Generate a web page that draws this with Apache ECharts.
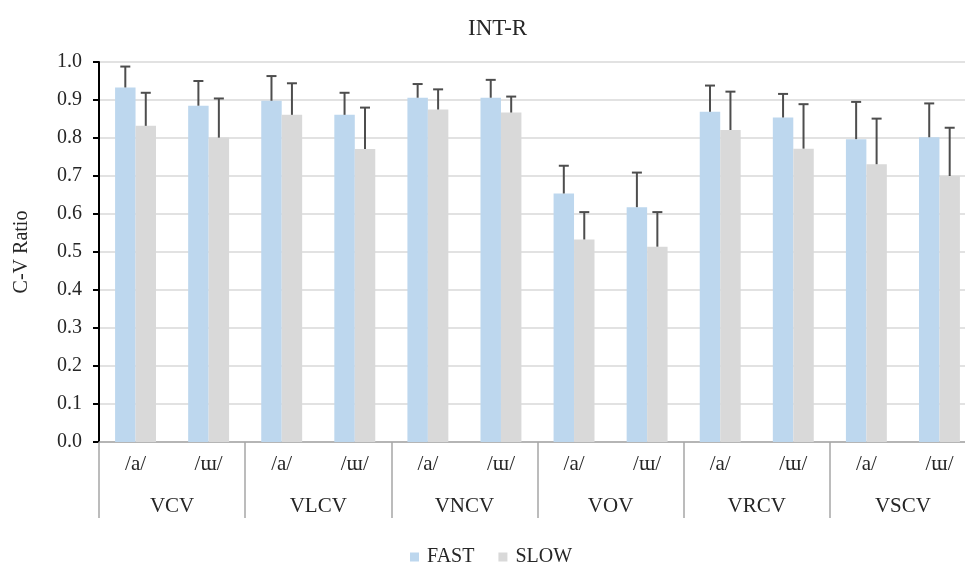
<!DOCTYPE html>
<html>
<head>
<meta charset="utf-8">
<script src="https://cdn.jsdelivr.net/npm/echarts@6/dist/echarts.min.js"></script>
<style>html,body{margin:0;padding:0;background:#fff}#c{width:965px;height:563px}</style>
</head>
<body>
<div id="c"></div>
<script>
var subCategories = ['/a/', '/ɯ/', '/a/', '/ɯ/', '/a/', '/ɯ/', '/a/', '/ɯ/', '/a/', '/ɯ/', '/a/', '/ɯ/'];
var groups = ['VCV', 'VLCV', 'VNCV', 'VOV', 'VRCV', 'VSCV'];
var fastValues = [0.933, 0.885, 0.898, 0.861, 0.906, 0.906, 0.654, 0.618, 0.869, 0.854, 0.797, 0.802];
var fastErrTop = [0.988, 0.950, 0.963, 0.919, 0.942, 0.953, 0.727, 0.709, 0.938, 0.916, 0.895, 0.891];
var slowValues = [0.832, 0.801, 0.861, 0.771, 0.875, 0.867, 0.533, 0.514, 0.821, 0.772, 0.731, 0.700];
var slowErrTop = [0.919, 0.904, 0.944, 0.880, 0.928, 0.909, 0.605, 0.605, 0.922, 0.889, 0.851, 0.827];
var yTicks = ['0.0','0.1','0.2','0.3','0.4','0.5','0.6','0.7','0.8','0.9','1.0'];

var FONT = '"Liberation Serif", "DejaVu Serif", serif';
var BAR_FRAC = 0.28;

function errData(vals, tops) {
  return vals.map(function (v, i) { return [i, v, tops[i]]; });
}
function errRender(side) {
  return function (params, api) {
    var i = api.value(0);
    var base = api.coord([i, api.value(1)]);
    var top = api.coord([i, api.value(2)]);
    var band = api.size([1, 0])[0];
    var bw = band * BAR_FRAC;
    var x = base[0] + side * bw / 2;
    var cap = 5;
    var st = { stroke: '#4d4d4d', lineWidth: 2 };
    return {
      type: 'group',
      children: [
        { type: 'line', shape: { x1: x, y1: base[1], x2: x, y2: top[1] }, style: st },
        { type: 'line', shape: { x1: x - cap, y1: top[1], x2: x + cap, y2: top[1] }, style: st }
      ]
    };
  };
}

var chart = echarts.init(document.getElementById('c'));
chart.setOption({
  animation: false,
  backgroundColor: '#fff',
  title: {
    text: 'INT-R',
    left: 463, top: 12,
    textStyle: { fontFamily: FONT, fontSize: 23, fontWeight: 'normal', color: '#262626' }
  },
  legend: {
    left: 405, top: 542,
    itemWidth: 9, itemHeight: 9, itemGap: 24,
    icon: 'rect',
    textStyle: { fontFamily: FONT, fontSize: 20, color: '#262626', padding: [0, 0, 0, 3] },
    data: ['FAST', 'SLOW']
  },
  grid: { left: 99, right: -11, top: 62, bottom: 121, outerBoundsMode: 'none', containLabel: false },
  xAxis: [
    {
      type: 'category',
      data: subCategories,
      boundaryGap: true,
      axisLine: { show: true, lineStyle: { color: '#a6a6a6', width: 1.5 } },
      axisTick: {
        show: true, length: 76, inside: false,
        interval: function (idx) { return idx % 2 === 0; },
        lineStyle: { color: '#a6a6a6', width: 1.5 }
      },
      axisLabel: { interval: 0, margin: 12, fontFamily: FONT, fontSize: 21, color: '#262626' },
      splitLine: { show: false }
    },
    {
      type: 'category',
      data: groups,
      position: 'bottom',
      gridIndex: 0,
      axisLine: { show: false },
      axisTick: { show: false },
      axisLabel: { interval: 0, margin: 54, fontFamily: FONT, fontSize: 21, color: '#262626' },
      splitLine: { show: false }
    }
  ],
  yAxis: {
    type: 'value',
    min: 0, max: 1, interval: 0.1,
    name: 'C-V Ratio',
    nameLocation: 'middle',
    nameRotate: 90,
    nameGap: 67,
    nameTextStyle: { fontFamily: FONT, fontSize: 20, color: '#262626' },
    axisLine: { show: true, lineStyle: { color: '#000', width: 2 } },
    axisTick: { show: true, inside: false, length: 6, lineStyle: { color: '#000', width: 2 } },
    axisLabel: {
      margin: 17, fontFamily: FONT, fontSize: 20, color: '#262626',
      formatter: function (v) { return yTicks[Math.round(v * 10)]; }
    },
    splitLine: { show: true, lineStyle: { color: '#d9d9d9', width: 1.5 } }
  },
  series: [
    {
      name: 'FAST', type: 'bar', data: fastValues,
      barWidth: (BAR_FRAC * 100) + '%', barGap: '0%',
      itemStyle: { color: '#bdd7ee' }, z: 2
    },
    {
      name: 'SLOW', type: 'bar', data: slowValues,
      barWidth: (BAR_FRAC * 100) + '%', barGap: '0%',
      itemStyle: { color: '#d9d9d9' }, z: 2
    },
    {
      type: 'custom', name: 'FAST err', data: errData(fastValues, fastErrTop),
      renderItem: errRender(-1), z: 5, encode: { x: 0, y: [1, 2] }
    },
    {
      type: 'custom', name: 'SLOW err', data: errData(slowValues, slowErrTop),
      renderItem: errRender(1), z: 5, encode: { x: 0, y: [1, 2] }
    }
  ]
});
</script>
</body>
</html>
